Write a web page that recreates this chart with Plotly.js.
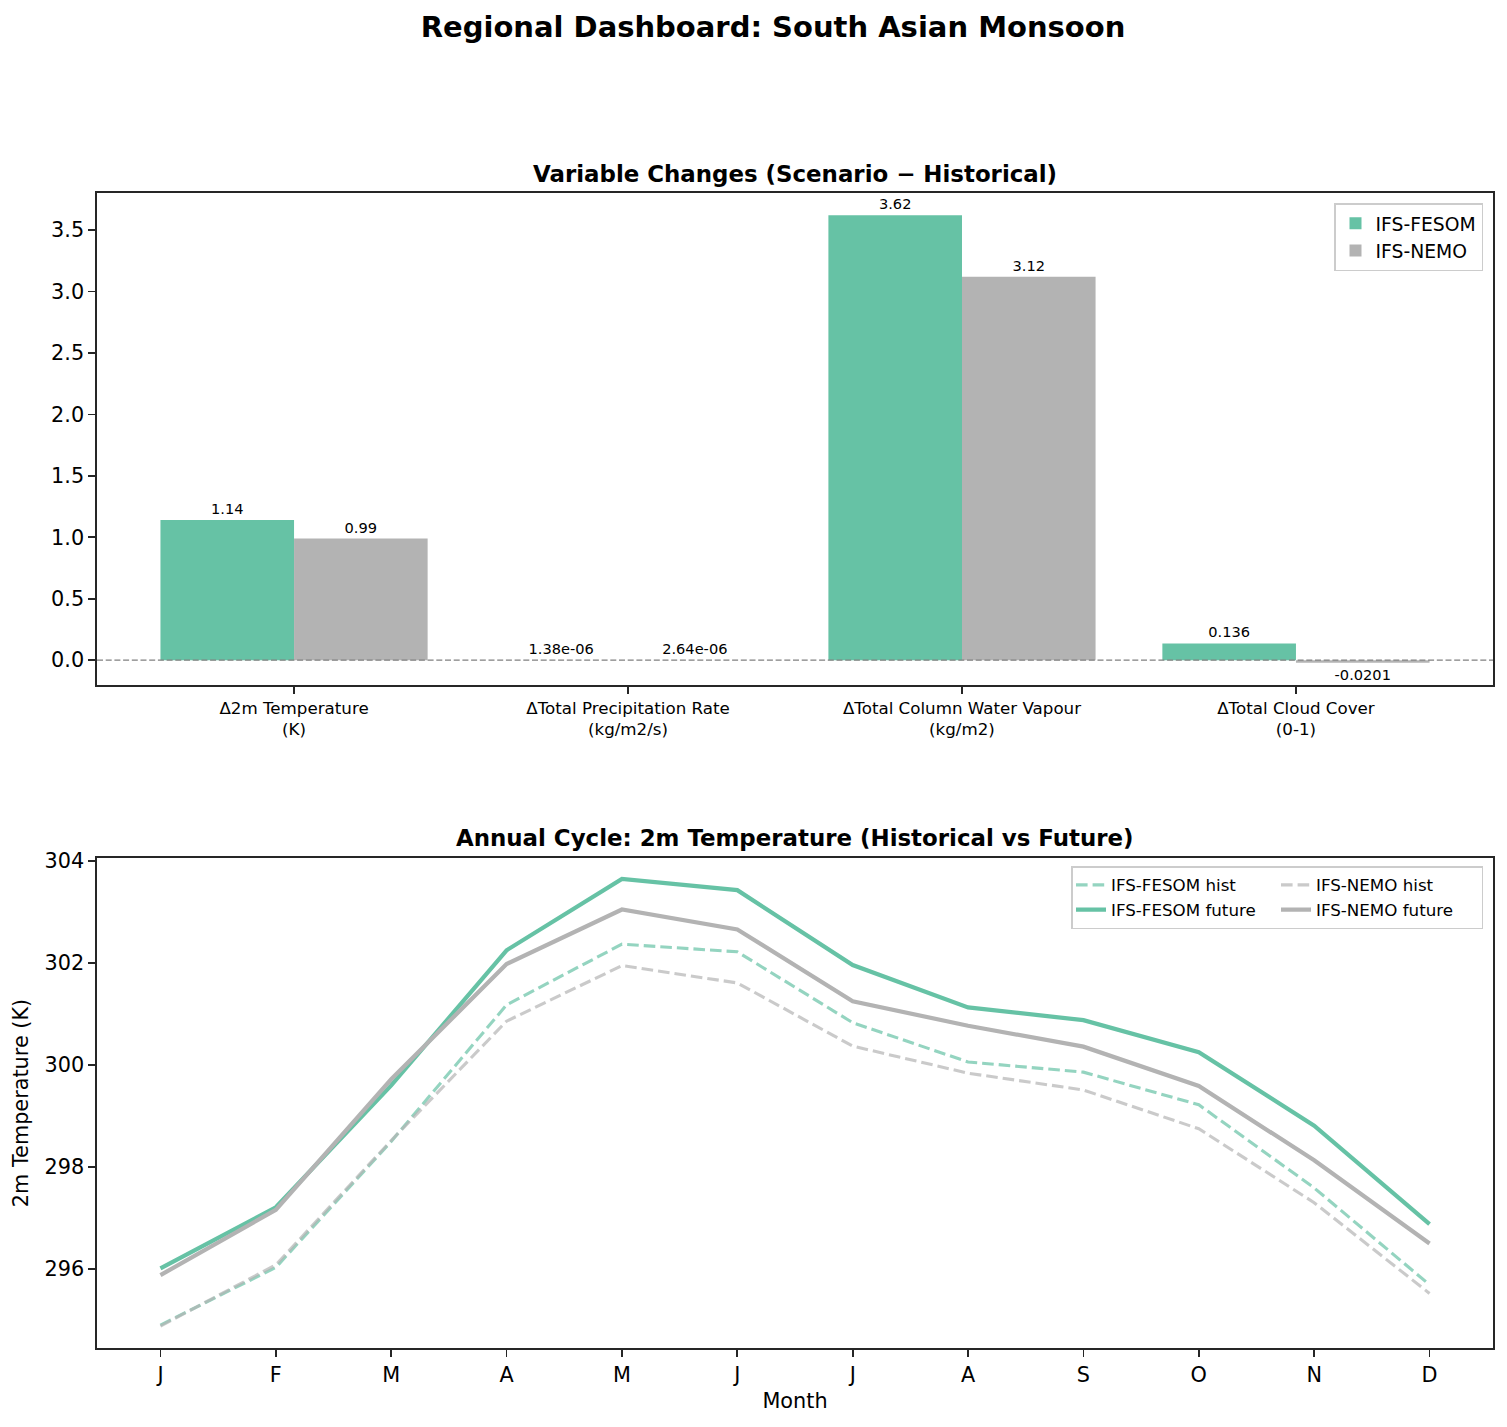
<!DOCTYPE html>
<html><head><meta charset="utf-8">
<script src="https://cdn.plot.ly/plotly-3.0.1.min.js"></script>
<style>html,body{margin:0;padding:0;background:#fff}</style>
</head><body>
<div id="chart" style="width:1507px;height:1427px"></div>
<script>
// ---- data ----
const categories = ['Δ2m Temperature<br>(K)', 'ΔTotal Precipitation Rate<br>(kg/m2/s)', 'ΔTotal Column Water Vapour<br>(kg/m2)', 'ΔTotal Cloud Cover<br>(0-1)'];
const fesomDelta = [1.14, 1.38e-6, 3.62, 0.136];
const nemoDelta = [0.99, 2.64e-6, 3.12, -0.0201];
const fesomDeltaLabels = ['1.14', '1.38e-06', '3.62', '0.136'];
const nemoDeltaLabels = ['0.99', '2.64e-06', '3.12', '-0.0201'];
const barTicks = [0.0, 0.5, 1.0, 1.5, 2.0, 2.5, 3.0, 3.5];

const months = ['J','F','M','A','M','J','J','A','S','O','N','D'];
const fesomHist   = [294.90, 296.03, 298.50, 301.18, 302.37, 302.22, 300.83, 300.06, 299.86, 299.22, 297.59, 295.69];
const fesomFuture = [296.01, 297.21, 299.60, 302.25, 303.65, 303.43, 301.96, 301.13, 300.88, 300.25, 298.81, 296.88];
const nemoHist    = [294.88, 296.08, 298.52, 300.86, 301.95, 301.61, 300.37, 299.84, 299.51, 298.75, 297.30, 295.52];
const nemoFuture  = [295.88, 297.16, 299.72, 301.98, 303.05, 302.66, 301.25, 300.77, 300.36, 299.59, 298.13, 296.50];
const tempTicks = [296, 298, 300, 302, 304];

// ---- styles ----
const GREEN = '#66c2a5', GRAY = '#b3b3b3', INK = '#262626';
const FONT = 'DejaVu Sans, sans-serif';
const catIdx = categories.map((_, i) => i);
const monIdx = months.map((_, i) => i);

const traces = [
  {type:'bar', name:'IFS-FESOM', x:catIdx, y:fesomDelta, text:fesomDeltaLabels,
   textposition:'outside', textfont:{size:14.6, color:'#000', family:FONT}, cliponaxis:false,
   marker:{color:GREEN}, xaxis:'x', yaxis:'y', legend:'legend'},
  {type:'bar', name:'IFS-NEMO', x:catIdx, y:nemoDelta, text:nemoDeltaLabels,
   textposition:'outside', textfont:{size:14.6, color:'#000', family:FONT}, cliponaxis:false,
   marker:{color:GRAY}, xaxis:'x', yaxis:'y', legend:'legend'},
  {type:'scatter', mode:'lines', name:'IFS-FESOM hist', x:monIdx, y:fesomHist, opacity:0.7,
   line:{color:GREEN, width:3.1, dash:'11.6px,5px'}, xaxis:'x2', yaxis:'y2', legend:'legend2', legendgroup:'fesom'},
  {type:'scatter', mode:'lines', name:'IFS-FESOM future', x:monIdx, y:fesomFuture,
   line:{color:GREEN, width:4.2}, xaxis:'x2', yaxis:'y2', legend:'legend2', legendgroup:'fesom'},
  {type:'scatter', mode:'lines', name:'IFS-NEMO hist', x:monIdx, y:nemoHist, opacity:0.7,
   line:{color:GRAY, width:3.1, dash:'11.6px,5px'}, xaxis:'x2', yaxis:'y2', legend:'legend2', legendgroup:'nemo'},
  {type:'scatter', mode:'lines', name:'IFS-NEMO future', x:monIdx, y:nemoFuture,
   line:{color:GRAY, width:4.2}, xaxis:'x2', yaxis:'y2', legend:'legend2', legendgroup:'nemo'}
];

const axisBase = {showline:true, mirror:true, linecolor:INK, linewidth:1.67, ticks:'outside', ticklen:7,
  tickwidth:1.67, tickcolor:INK, showgrid:false, zeroline:false, tickfont:{size:20.8, color:'#000', family:FONT},
  automargin:false};

const H = 1427, T = 100, B = 79;
const PH = H - T - B;
const py = (px) => (H - B - px) / PH;

const layout = {
  width:1507, height:1427,
  margin:{l:97, r:14, t:T, b:B},
  paper_bgcolor:'#fff', plot_bgcolor:'#fff',
  font:{family:FONT, color:'#000'},
  showlegend:true,
  barmode:'group', bargap:0.2, bargroupgap:0,
  title:{text:'Regional Dashboard: South Asian Monsoon', x:773/1507, xref:'container', xanchor:'center',
    y:1-27/1427, yref:'container', yanchor:'middle', font:{size:29, weight:'bold', family:FONT, color:'#000'}},
  xaxis:Object.assign({}, axisBase, {anchor:'y', domain:[0,1], range:[-0.59, 3.59], tickvals:catIdx,
    ticktext:categories, tickfont:{size:16.7, color:'#000', family:FONT}}),
  yaxis:Object.assign({}, axisBase, {anchor:'x', domain:[py(685), py(193)], range:[-0.202, 3.802],
    tickvals:barTicks, tickformat:'.1f'}),
  xaxis2:Object.assign({}, axisBase, {anchor:'y2', domain:[0,1], range:[-0.55, 11.55], tickvals:monIdx,
    ticktext:months, title:{text:'Month', font:{size:20.8, family:FONT, color:'#000'}, standoff:8}}),
  yaxis2:Object.assign({}, axisBase, {anchor:'x2', domain:[0, py(858)], range:[294.45, 304.06],
    tickvals:tempTicks, title:{text:'2m Temperature (K)', font:{size:20.8, family:FONT, color:'#000'}, standoff:10}}),
  legend:{x:(1483-97)/1396, xanchor:'right', y:py(203), yanchor:'top', bgcolor:'rgba(255,255,255,0.8)',
    bordercolor:'#cccccc', borderwidth:1.5, font:{size:18.75, family:FONT, color:'#000'}},
  legend2:{orientation:'h', traceorder:'grouped', x:(1483-97)/1396, xanchor:'right', y:py(866), yanchor:'top',
    bgcolor:'rgba(255,255,255,0.8)', bordercolor:'#cccccc', borderwidth:1.5, tracegroupgap:0, entrywidth:160,
    font:{size:16.7, family:FONT, color:'#000'}},
  shapes:[{type:'line', xref:'x domain', x0:0, x1:1, yref:'y', y0:0, y1:0, layer:'above',
    line:{color:'#808080', width:1.2, dash:'6px,2.7px'}}],
  annotations:[
    {text:'<b>Variable Changes (Scenario − Historical)</b>', xref:'paper', x:0.5, xanchor:'center',
     yref:'paper', y:py(174), yanchor:'middle', showarrow:false, font:{size:22.9, family:FONT, color:'#000'}},
    {text:'<b>Annual Cycle: 2m Temperature (Historical vs Future)</b>', xref:'paper', x:0.5, xanchor:'center',
     yref:'paper', y:py(838), yanchor:'middle', showarrow:false, font:{size:22.9, family:FONT, color:'#000'}}
  ]
};

Plotly.newPlot('chart', traces, layout, {staticPlot:true, displayModeBar:false});
</script>
</body></html>
